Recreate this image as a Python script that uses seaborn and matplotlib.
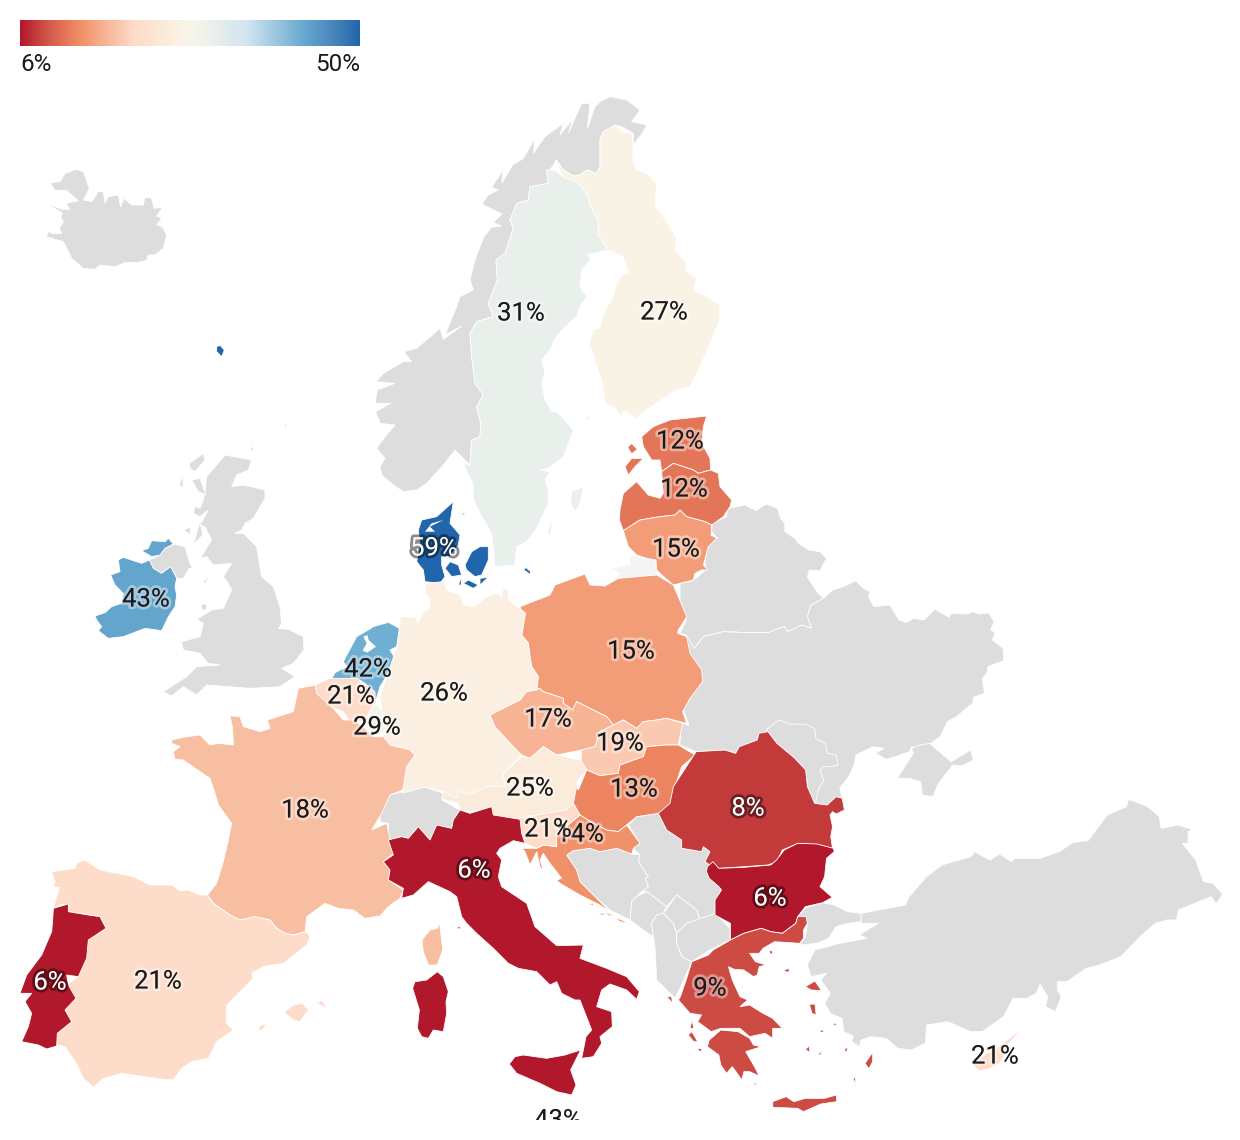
import matplotlib
matplotlib.use("Agg")
import matplotlib.pyplot as plt
import matplotlib.patheffects as pe
from matplotlib.patches import Rectangle
from matplotlib.colors import Normalize
import numpy as np
import seaborn as sns

# share per country, with the spot its label sits at
COUNTRIES = ["Sweden", "Finland", "Estonia", "Latvia", "Lithuania", "Poland", "Denmark", "Ireland",
             "Netherlands", "Germany", "Czechia", "Slovakia", "Austria", "Hungary", "Croatia", "Slovenia",
             "Belgium", "Luxembourg", "France", "Italy", "Romania", "Bulgaria", "Spain", "Portugal",
             "Greece", "Cyprus", "Malta"]
SHARES = [31, 27, 12, 12, 15, 15, 59, 43, 42, 26, 17, 19, 25, 13, 14, 21, 21, 29, 18, 6, 8, 6, 21, 6, 9, 21, 43]
LABEL_X = [521, 664, 680, 684, 676, 631, 434, 146, 368, 444, 548, 620, 530, 634, 580, 548, 351, 377, 305, 474,
           748, 770, 158, 50, 710, 995, 558]
LABEL_Y = [311, 310, 439, 487, 547, 649, 546, 597, 667, 691, 717, 741, 786, 787, 832, 827, 694, 725, 808, 868,
           806, 896, 979, 980, 986, 1054, 1118]

SCALE_MIN = 6
SCALE_MAX = 50
SCALE_COLORS = ["#b2182b", "#d2594a", "#ef8a62", "#f7b494", "#fddbc7", "#fbe9d8", "#f8f6e9", "#e6eeec",
                "#d1e5f0", "#9fc8e0", "#67a9cf", "#4b88bd", "#2166ac"]
NO_DATA = "#dddddd"


def crop(x0, y0, pts, sx=3):
    # outlines were traced on enlarged crops of the map
    return [(x0 + x / sx, y0 + y / 3) for x, y in pts]


NOR = (360, 90)
IRL = (80, 420)
MID = (380, 490)
EAST = (680, 490)
WEST = (0, 680)
SOUTH = (380, 780)
SE = (640, 780)

GREY_SHAPES = [
    crop(0, 0, [(136, 608), (185, 628), (210, 628), (198, 610), (235, 602), (200, 572), (165, 570), (150, 548),
                (180, 545), (195, 520), (230, 508), (250, 515), (268, 565), (250, 600), (275, 605), (295, 575),
                (310, 575), (315, 610), (325, 590), (355, 585), (362, 620), (372, 595), (395, 615), (430, 615),
                (435, 592), (455, 595), (462, 625), (488, 622), (470, 648), (485, 655), (470, 675), (487, 680),
                (500, 705), (490, 745), (465, 765), (445, 765), (440, 780), (415, 788), (375, 788), (345, 800),
                (300, 795), (285, 808), (250, 805), (215, 775), (190, 725), (138, 710), (148, 692), (155, 700),
                (185, 700), (178, 685), (190, 665), (182, 650), (188, 640)]),
    # Norway
    crop(*NOR, [(60, 1130), (75, 1105), (50, 1075), (75, 1040), (105, 1005), (60, 1000), (47, 965), (92, 940),
                (45, 940), (52, 900), (105, 880), (48, 875), (70, 850), (130, 815), (155, 815), (132, 785),
                (170, 775), (240, 715), (250, 748), (305, 708), (255, 735), (290, 650), (300, 620), (340, 600),
                (330, 570), (345, 510), (360, 470), (372, 440), (395, 412), (425, 408), (400, 398), (425, 372),
                (365, 342), (385, 315), (415, 300), (395, 292), (430, 238), (425, 280), (458, 225), (490, 205),
                (525, 145), (520, 190), (555, 140), (575, 125), (610, 100), (600, 135), (640, 85), (625, 130),
                (665, 40), (690, 40), (682, 115), (705, 50), (720, 35), (750, 20), (800, 30), (840, 60), (815, 95),
                (860, 105), (850, 125), (820, 165), (820, 130), (785, 110), (765, 105), (730, 125), (720, 150),
                (720, 230), (710, 250), (680, 240), (660, 255), (640, 258), (610, 240), (590, 210), (570, 240),
                (560, 240), (565, 280), (510, 290), (505, 330), (470, 340), (450, 390), (460, 415), (435, 490),
                (408, 510), (412, 570), (385, 640), (400, 680), (350, 695), (330, 730), (335, 800), (345, 880),
                (370, 915), (350, 950), (362, 1000), (360, 1040), (335, 1050), (330, 1125), (285, 1080), (250, 1125),
                (200, 1180), (170, 1200), (130, 1205), (100, 1185), (65, 1155)]),
    # Great Britain and its islands
    crop(*IRL, [(410, 135), (435, 105), (515, 120), (505, 150), (470, 165), (455, 200), (490, 195), (555, 210),
                (555, 235), (520, 295), (495, 310), (485, 330), (465, 340), (490, 340), (530, 380), (545, 470),
                (580, 500), (600, 560), (605, 610), (595, 625), (625, 628), (670, 650), (672, 690), (640, 730),
                (605, 745), (645, 770), (600, 800), (510, 805), (380, 795), (350, 825), (310, 800), (275, 828),
                (250, 815), (320, 770), (350, 740), (420, 735), (385, 730), (360, 700), (310, 690), (305, 665),
                (360, 650), (370, 610), (350, 598), (395, 570), (430, 565), (455, 510), (445, 490), (430, 470),
                (455, 430), (400, 435), (380, 410), (362, 415), (385, 375), (395, 360), (375, 320), (360, 315),
                (385, 270), (360, 290), (340, 280), (345, 260), (360, 265), (370, 240), (375, 215), (380, 170)]),
    crop(*IRL, [(328, 130), (370, 100), (375, 120), (345, 155), (330, 145)]),
    crop(*IRL, [(335, 180), (360, 175), (378, 225), (355, 215)]),
    crop(*IRL, [(340, 375), (360, 305), (368, 345)]),
    crop(*IRL, [(312, 330), (332, 320), (330, 345)]),
    crop(*IRL, [(298, 195), (308, 165), (310, 205)]),
    crop(*IRL, [(510, 90), (520, 75), (518, 95)]),
    crop(*IRL, [(612, 20), (622, 0), (618, 20)]),
    crop(*IRL, [(368, 485), (390, 470), (375, 490)]),
    crop(*IRL, [(362, 555), (378, 550), (380, 568), (368, 572)]),
    # Northern Ireland
    crop(*IRL, [(208, 420), (240, 405), (255, 385), (285, 372), (315, 380), (330, 430), (338, 445), (328, 445),
                (310, 475), (290, 475), (272, 440), (245, 460), (220, 445)]),
    # Belarus
    crop(*EAST, [(130, 70), (135, 55), (160, 50), (180, 45), (212, 62), (240, 42), (272, 55), (280, 85), (292, 100),
                 (292, 125), (320, 145), (330, 160), (358, 180), (390, 185), (408, 205), (390, 242), (360, 240),
                 (355, 262), (385, 310), (400, 325), (365, 345), (355, 380), (367, 415), (340, 405), (300, 425),
                 (290, 410), (245, 428), (190, 428), (120, 425), (65, 440), (40, 475), (22, 475), (18, 435),
                 (0, 430), (18, 390), (0, 330), (0, 280), (30, 275), (45, 265), (70, 240), (70, 200), (85, 155),
                 (105, 145), (88, 125), (90, 100), (130, 80)], 2.786),
    # Ukraine
    crop(*EAST, [(18, 435), (40, 475), (65, 440), (120, 425), (190, 428), (245, 428), (290, 410), (300, 425),
                 (340, 405), (367, 415), (355, 380), (365, 345), (400, 325), (425, 300), (455, 290), (490, 272),
                 (510, 295), (530, 305), (525, 320), (540, 350), (585, 345), (610, 390), (630, 398), (650, 385),
                 (680, 390), (710, 358), (750, 382), (755, 370), (800, 372), (815, 365), (835, 372), (860, 368),
                 (875, 395), (865, 420), (878, 428), (870, 450), (900, 475), (902, 512), (858, 530), (855, 550),
                 (842, 565), (848, 610), (818, 622), (815, 640), (770, 680), (745, 695), (725, 740), (705, 755),
                 (700, 760), (670, 770), (665, 775), (645, 770), (640, 785), (600, 800), (575, 808), (545, 790),
                 (568, 775), (538, 770), (490, 795), (485, 825), (470, 860), (455, 880), (445, 895), (452, 925),
                 (435, 920), (410, 945), (380, 940), (350, 840), (320, 805), (270, 760), (245, 725), (220, 730),
                 (215, 750), (165, 770), (155, 790), (125, 780), (45, 785), (0, 765), (0, 750), (5, 700), (25, 705),
                 (10, 660), (40, 600), (62, 570), (55, 535), (30, 505), (22, 475)], 2.786),
    # Crimea
    crop(*EAST, [(605, 865), (650, 790), (645, 775), (670, 765), (695, 760), (755, 815), (810, 780), (817, 810),
                 (785, 828), (760, 825), (720, 880), (705, 920), (675, 915), (670, 875), (640, 865)], 2.786),
    # Moldova
    crop(*EAST, [(240, 720), (275, 690), (305, 702), (350, 703), (375, 715), (378, 745), (405, 760), (410, 790),
                 (435, 795), (440, 825), (420, 830), (400, 830), (390, 840), (400, 870), (385, 900), (378, 935),
                 (370, 930), (355, 890), (350, 840), (320, 805), (270, 760), (245, 725)], 2.786),
    # Switzerland
    crop(*SOUTH, [(0, 95), (30, 45), (130, 20), (190, 40), (185, 60), (240, 90), (220, 120), (215, 145), (170, 135),
                  (150, 180), (115, 140), (85, 175), (65, 170), (25, 180), (25, 130), (0, 125)]),
    # Serbia
    crop(*SOUTH, [(745, 135), (770, 110), (835, 100), (860, 150), (905, 180), (905, 205), (965, 215), (970, 200),
                  (990, 215), (975, 245), (1010, 270), (985, 290), (1025, 325), (1005, 370), (1005, 400), (960, 420),
                  (950, 390), (890, 345), (860, 380), (800, 335), (785, 335), (805, 320), (795, 295), (805, 290),
                  (775, 245), (780, 225), (760, 205), (780, 190)]),
    # Bosnia
    crop(*SOUTH, [(560, 225), (580, 212), (630, 205), (660, 215), (710, 205), (755, 222), (780, 225), (775, 245),
                  (805, 290), (795, 295), (805, 320), (785, 335), (770, 350), (755, 365), (750, 420), (690, 390),
                  (640, 345), (600, 305), (590, 270)]),
    # Montenegro
    crop(*SOUTH, [(750, 420), (755, 365), (770, 350), (800, 335), (860, 380), (850, 400), (830, 405), (815, 430),
                  (820, 470), (790, 450)]),
    # Kosovo
    crop(*SOUTH, [(850, 400), (890, 345), (950, 390), (960, 420), (920, 430), (890, 460), (880, 430)]),
    # North Macedonia
    crop(*SOUTH, [(890, 460), (920, 430), (1005, 400), (1050, 445), (1050, 480), (990, 510), (935, 545), (905, 530),
                  (890, 490)]),
    # Albania
    crop(*SOUTH, [(815, 430), (830, 405), (850, 400), (880, 430), (890, 460), (890, 490), (905, 530), (935, 545),
                  (900, 625), (885, 655), (860, 630), (830, 600), (825, 500), (820, 470)]),
    # Turkey
    crop(*SE, [(415, 495), (430, 470), (435, 432), (410, 410), (432, 383), (475, 368), (505, 375), (540, 395),
               (575, 400), (575, 425), (540, 430), (510, 440), (490, 475), (460, 490)], 2.6),
    crop(*SE, [(575, 400), (610, 392), (690, 375), (700, 350), (745, 290), (785, 255), (860, 230), (870, 215),
               (910, 240), (935, 222), (965, 245), (975, 235), (1040, 235), (1090, 215), (1125, 188), (1165, 182),
               (1215, 105), (1265, 80), (1270, 58), (1320, 80), (1350, 110), (1355, 145), (1400, 135), (1438, 150),
               (1425, 155), (1425, 190), (1410, 190), (1445, 240), (1465, 305), (1490, 310), (1515, 342),
               (1498, 372), (1485, 350), (1400, 390), (1395, 420), (1370, 420), (1340, 430), (1300, 470),
               (1250, 530), (1195, 555), (1160, 565), (1110, 605), (1085, 605), (1085, 630), (1095, 650),
               (1080, 695), (1055, 680), (1060, 650), (1040, 612), (1030, 640), (1005, 655), (970, 655), (945, 710),
               (890, 755), (860, 755), (800, 725), (745, 735), (742, 790), (705, 810), (670, 805), (640, 775),
               (600, 770), (575, 780), (570, 800), (550, 785), (555, 768), (530, 755), (525, 715), (495, 700),
               (480, 670), (495, 640), (470, 600), (485, 580), (445, 590), (435, 555), (455, 510), (520, 490),
               (590, 475), (570, 465), (620, 430), (575, 430)], 2.6),
    # Andorra
    crop(*WEST, [(815, 735), (832, 735), (830, 750), (820, 748)]),
]

OUTLINES = {
    "Sweden": [
        crop(*NOR, [(340, 1185), (310, 1120), (330, 1125), (335, 1050), (360, 1040), (362, 1000), (350, 950), (370, 915),
                    (345, 880), (335, 800), (330, 730), (350, 695), (400, 680), (385, 640), (412, 570), (408, 510),
                    (435, 490), (460, 415), (450, 390), (470, 340), (505, 330), (510, 290), (565, 280), (560, 240),
                    (585, 240), (610, 262), (650, 275), (680, 310), (690, 345), (715, 395), (715, 435), (745, 480),
                    (700, 490), (685, 490), (690, 510), (665, 540), (660, 590), (680, 620), (660, 650), (650, 680),
                    (615, 710), (585, 745), (570, 780), (545, 810), (555, 850), (545, 880), (555, 930), (575, 965),
                    (590, 965), (640, 1020), (625, 1060), (610, 1100), (565, 1135), (540, 1140), (570, 1145),
                    (555, 1170), (565, 1200)])
        + crop(*MID, [(505, 40), (470, 115), (440, 155), (410, 170), (405, 225), (345, 230), (340, 170), (335, 130),
                      (300, 70), (280, 25)]),
        crop(*NOR, [(635, 1205), (670, 1190), (660, 1240), (645, 1265), (632, 1240)]),
        crop(*MID, [(525, 50), (510, 140), (503, 130), (518, 80)]),
    ],
    "Finland": [
        crop(*NOR, [(585, 210), (610, 240), (640, 258), (660, 255), (680, 240), (710, 250), (720, 230), (720, 150),
                    (730, 125), (765, 105), (785, 125), (815, 130), (820, 165), (818, 200), (830, 240), (860, 250),
                    (890, 280), (885, 345), (920, 395), (950, 445), (945, 480), (975, 515), (980, 545), (1010, 565),
                    (1000, 600), (1040, 620), (1080, 645), (1078, 690), (1050, 760), (1020, 830), (990, 890),
                    (950, 900), (880, 945), (825, 985), (800, 965), (785, 965), (790, 985), (760, 950), (735, 940),
                    (725, 870), (705, 815), (700, 790), (687, 765), (700, 720), (720, 715), (730, 670), (760, 620),
                    (770, 580), (785, 555), (805, 550), (790, 500), (745, 480), (715, 435), (715, 395), (690, 345),
                    (680, 310), (650, 275), (610, 262)]),
        crop(*NOR, [(672, 985), (690, 972), (685, 995)]),
    ],
    "Estonia": [
        crop(*NOR, [(845, 1040), (880, 1010), (930, 990), (1040, 978), (1030, 1010), (1025, 1060), (1050, 1105),
                    (1052, 1140), (1015, 1150), (1000, 1140), (940, 1120), (905, 1145), (900, 1110), (875, 1110),
                    (850, 1070)]),
        crop(*NOR, [(795, 1130), (815, 1105), (850, 1105), (825, 1130), (805, 1155)]),
        crop(*NOR, [(803, 1072), (815, 1060), (832, 1078), (815, 1092)]),
    ],
    "Latvia": [
        crop(*NOR, [(905, 1145), (940, 1120), (1000, 1140), (1015, 1150), (1052, 1140), (1075, 1150), (1080, 1190),
                    (1115, 1230), (1110, 1250)])
        + crop(*MID, [(1030, 80), (995, 105), (975, 95), (920, 80), (900, 60), (885, 75), (840, 80), (780, 90),
                      (730, 122), (718, 90), (720, 60)])
        + crop(*NOR, [(790, 1210), (830, 1175), (865, 1215), (900, 1225), (910, 1210)]),
    ],
    "Lithuania": [
        crop(*MID, [(730, 122), (780, 90), (840, 80), (885, 75), (900, 60), (920, 80), (975, 95), (995, 105), (993, 135),
                    (1010, 145), (985, 170), (970, 225), (983, 240), (965, 240), (945, 250), (940, 270), (880, 285),
                    (845, 255), (830, 240), (828, 210), (800, 205), (770, 195), (745, 170)]),
    ],
    "Poland": [
        crop(*MID, [(420, 350), (510, 315), (525, 285), (615, 252), (630, 285), (675, 288), (715, 265), (830, 255),
                    (880, 285), (895, 320), (920, 380), (895, 420), (893, 430), (920, 440), (930, 490), (965, 540),
                    (968, 575), (930, 625), (908, 665), (920, 700), (860, 685), (830, 690), (790, 695), (770, 715),
                    (730, 690), (700, 705), (680, 680), (630, 655), (590, 635), (578, 660), (550, 640), (550, 625),
                    (490, 605), (478, 595), (470, 600), (475, 560), (455, 530), (450, 500), (445, 460), (425, 435),
                    (432, 395)]),
    ],
    "Denmark": [
        crop(0, 0, [(650, 1040), (660, 1036), (673, 1050), (665, 1070), (650, 1055)]),
        crop(*MID, [(135, 275), (130, 240), (110, 215), (120, 160), (115, 120), (125, 90), (170, 80), (220, 35),
                    (210, 100), (240, 135), (235, 165), (210, 200), (185, 200), (185, 225), (195, 260), (180, 280)]),
        crop(*MID, [(195, 235), (210, 215), (235, 225), (245, 255), (215, 260)]),
        crop(*MID, [(255, 225), (275, 185), (300, 170), (325, 170), (325, 210), (305, 255), (285, 260), (260, 240)]),
        crop(*MID, [(250, 280), (265, 270), (295, 285), (280, 295)]),
        crop(*MID, [(300, 265), (325, 262), (300, 285)]),
        crop(*MID, [(432, 240), (437, 232), (452, 245), (450, 253)]),
        crop(*MID, [(235, 285), (245, 258), (243, 285)]),
        crop(*MID, [(243, 72), (255, 68), (252, 75)]),
    ],
    "Ireland": [
        crop(*IRL, [(115, 420), (130, 412), (185, 430), (208, 420), (220, 445), (245, 460), (272, 440), (290, 475),
                    (285, 500), (290, 525), (285, 560), (265, 590), (245, 632), (195, 625), (130, 650), (85, 655),
                    (55, 632), (65, 620), (50, 600), (45, 588), (75, 578), (95, 560), (125, 550), (130, 520),
                    (105, 495), (92, 465), (120, 455)]),
        crop(*IRL, [(185, 392), (205, 385), (215, 362), (255, 365), (265, 355), (280, 372), (255, 385), (240, 405),
                    (215, 410)]),
    ],
    "Netherlands": [
        crop(*IRL, [(880, 620), (925, 607), (958, 625), (950, 680), (930, 690), (948, 720), (925, 760), (900, 800),
                    (885, 850), (880, 815), (855, 790), (830, 775), (750, 785), (765, 758), (800, 740), (790, 725),
                    (830, 650), (868, 628)]),
    ],
    "Germany": [
        crop(*MID, [(135, 280), (190, 275), (200, 300), (240, 315), (250, 345), (280, 350), (320, 320), (350, 310),
                    (365, 320), (370, 295), (385, 300), (385, 330), (415, 352), (437, 370), (432, 395), (425, 435),
                    (445, 460), (450, 500), (455, 530), (475, 560), (470, 600), (440, 605), (420, 630), (330, 675),
                    (345, 710), (400, 770), (425, 795), (370, 850), (375, 890), (320, 890), (275, 912), (235, 905),
                    (232, 925), (190, 905)])
        + [(425, 787), (403, 793), (403, 780), (407, 767), (415, 755), (410, 750), (390, 745), (383, 737), (385, 733),
           (382, 710), (380, 697), (388, 673), (397, 647), (400, 628), (400, 617), (415, 617), (418, 623), (423, 612),
           (430, 608), (430, 598), (425, 593)],
    ],
    "Czechia": [
        crop(*MID, [(330, 675), (420, 630), (440, 605), (470, 600), (478, 595), (490, 605), (550, 625), (550, 640),
                    (578, 660), (590, 635), (630, 655), (680, 680), (700, 705), (660, 725), (645, 770), (605, 780),
                    (530, 795), (490, 770), (450, 805), (425, 795), (400, 770), (345, 710)]),
    ],
    "Slovakia": [
        crop(*MID, [(700, 705), (730, 690), (770, 715), (790, 695), (830, 690), (860, 685), (908, 700), (895, 765),
                    (860, 765), (800, 770), (790, 800), (720, 825), (715, 850), (660, 857), (620, 840), (603, 815),
                    (605, 780), (645, 770), (660, 725)]),
    ],
    "Austria": [
        crop(*MID, [(185, 925), (190, 905), (232, 925), (235, 905), (275, 912), (320, 890), (375, 890), (370, 850),
                    (425, 800), (450, 805), (490, 770), (530, 795), (600, 810), (620, 840), (590, 875), (595, 900),
                    (580, 945)])
        + crop(*SOUTH, [(560, 90), (470, 105), (420, 118), (340, 105), (335, 80), (275, 95), (240, 90), (235, 70),
                        (190, 58)]),
    ],
    "Hungary": [
        crop(*MID, [(620, 840), (660, 857), (715, 850), (720, 825), (790, 800), (800, 770), (860, 765), (895, 765),
                    (945, 795), (905, 830), (885, 890), (870, 950)])
        + crop(*SOUTH, [(835, 100), (770, 110), (740, 135), (715, 155), (680, 150), (640, 130), (600, 105), (580, 70),
                        (590, 20), (595, 30)]),
    ],
    "Croatia": [
        crop(*SOUTH, [(530, 200), (530, 165), (570, 130), (600, 105), (640, 130), (680, 150), (715, 155), (740, 135),
                      (780, 190), (760, 205), (755, 222), (710, 205), (660, 215), (630, 205), (580, 212), (560, 225),
                      (590, 270), (600, 305), (640, 345), (690, 395), (660, 375), (600, 345), (540, 310), (530, 300),
                      (545, 295), (510, 250), (490, 220), (480, 240), (490, 270), (480, 260), (470, 215), (450, 255),
                      (435, 215), (425, 205), (470, 205), (490, 195)]),
        crop(*SOUTH, [(615, 370), (640, 370), (640, 375)]),
        crop(*SOUTH, [(645, 405), (680, 397), (670, 405)]),
        crop(*SOUTH, [(665, 395), (700, 405), (690, 408)]),
        crop(*SOUTH, [(700, 410), (750, 430), (720, 425)]),
    ],
    "Slovenia": [
        crop(*SOUTH, [(415, 115), (470, 105), (560, 90), (580, 70), (600, 105), (570, 130), (530, 165), (530, 200),
                      (490, 195), (470, 205), (435, 190), (425, 160)]),
    ],
    "Belgium": [
        crop(*IRL, [(705, 795), (750, 775), (830, 775), (885, 815), (885, 850), (850, 905), (810, 905), (790, 875),
                    (745, 855), (710, 820)]),
    ],
    "Luxembourg": [
        crop(*IRL, [(885, 850), (905, 870), (915, 940), (880, 945), (850, 905)]),
    ],
    "France": [
        crop(*WEST, [(515, 180), (560, 170), (600, 165), (630, 195), (655, 190), (700, 195), (698, 145), (690, 107),
                     (720, 110), (730, 140), (780, 155), (810, 145), (802, 120), (880, 95), (895, 25), (945, 15),
                     (950, 40), (1000, 85), (1030, 120), (1060, 120), (1090, 140), (1120, 170), (1150, 170),
                     (1170, 195), (1230, 210), (1245, 225), (1220, 260), (1208, 330), (1170, 345), (1145, 400),
                     (1115, 450), (1160, 430), (1170, 480), (1180, 520), (1150, 545), (1170, 570), (1165, 600),
                     (1210, 630), (1200, 655), (1165, 680), (1140, 708), (1095, 715), (1060, 690), (1015, 685),
                     (975, 670), (920, 710), (915, 755), (880, 765), (855, 760), (830, 745), (810, 720), (765, 710),
                     (720, 720), (690, 705), (640, 670), (622, 645), (650, 610), (670, 545), (685, 480), (695, 430),
                     (655, 375), (645, 340), (630, 295), (600, 275), (550, 240), (525, 238), (520, 215), (540, 200),
                     (515, 190)]),
        crop(*SOUTH, [(178, 425), (183, 465), (188, 510), (172, 555), (145, 555), (130, 515), (126, 480), (150, 450),
                      (172, 445)]),
    ],
    "Italy": [
        crop(*SOUTH, [(25, 180), (65, 170), (85, 175), (115, 140), (150, 180), (170, 135), (215, 145), (220, 120),
                      (240, 90), (270, 100), (335, 80), (340, 105), (420, 118), (425, 160), (435, 190), (400, 182),
                      (360, 205), (350, 220), (365, 240), (355, 290), (365, 320), (440, 370), (465, 440), (530, 497),
                      (610, 495), (600, 535), (680, 565), (740, 590), (778, 635), (770, 658), (740, 630), (690, 612),
                      (665, 630), (650, 680), (695, 695), (697, 740), (660, 770), (665, 790), (640, 830), (605, 835),
                      (618, 770), (635, 750), (600, 660), (585, 660), (545, 640), (530, 605), (510, 615), (470, 575),
                      (415, 565), (385, 550), (340, 505), (290, 460), (260, 430), (245, 410), (230, 350), (210, 335),
                      (145, 305), (100, 345), (65, 355), (70, 325), (25, 300), (30, 270), (10, 245), (40, 225)]),
        crop(*SOUTH, [(388, 852), (405, 830), (430, 825), (500, 835), (555, 825), (602, 810), (572, 870), (588, 915),
                      (575, 945), (530, 935), (480, 910), (410, 880)]),
        crop(*SOUTH, [(98, 625), (105, 605), (140, 600), (172, 575), (190, 590), (205, 635), (198, 665), (200, 700),
                      (190, 755), (160, 750), (145, 775), (125, 770), (112, 745), (118, 690)]),
        crop(*SOUTH, [(225, 443), (243, 440), (240, 447)]),
    ],
    "Romania": [
        crop(*EAST, [(45, 785), (125, 780), (155, 790), (165, 770), (215, 750), (220, 730), (245, 725), (270, 760),
                     (320, 805), (350, 840), (355, 890), (375, 940), (410, 945), (435, 920), (452, 925), (458, 960),
                     (435, 972), (425, 965), (418, 975), (425, 1010), (420, 1040), (425, 1075), (385, 1065),
                     (330, 1060), (285, 1080), (270, 1115), (245, 1125), (180, 1130), (110, 1135)], 2.786)
        + crop(*SOUTH, [(1010, 270), (975, 245), (990, 215), (970, 200), (965, 215), (905, 205), (905, 180), (860, 150),
                        (835, 100), (870, 70), (880, 20)]),
    ],
    "Bulgaria": [
        crop(*SE, [(175, 260), (190, 245), (205, 265), (270, 262), (340, 255), (355, 240), (375, 210), (410, 190),
                   (460, 192), (503, 205), (505, 215), (485, 235), (480, 290), (468, 320), (500, 352), (475, 368),
                   (430, 380), (410, 410), (405, 430), (370, 460), (340, 455), (315, 445), (270, 460), (235, 480),
                   (235, 430), (195, 405), (195, 360), (212, 330), (205, 320), (180, 295), (173, 275)], 2.6),
    ],
    "Spain": [
        crop(*WEST, [(155, 575), (225, 565), (230, 550), (255, 540), (300, 570), (400, 590), (450, 615), (515, 615),
                     (540, 632), (565, 630), (600, 645), (622, 645), (640, 670), (690, 705), (720, 720), (765, 710),
                     (810, 720), (830, 745), (855, 760), (880, 765), (920, 755), (930, 770), (920, 795), (850, 850),
                     (790, 860), (755, 880), (760, 895), (680, 975), (680, 1030), (700, 1050), (650, 1085),
                     (625, 1135), (575, 1145), (545, 1165), (520, 1200), (490, 1198), (365, 1180), (310, 1195),
                     (280, 1222), (250, 1195), (232, 1155), (195, 1100), (170, 1095), (172, 1060), (215, 1025),
                     (195, 990), (228, 955), (200, 915), (235, 890), (250, 850), (265, 780), (318, 745), (300, 710),
                     (265, 705), (205, 695), (205, 672), (180, 675), (160, 685), (178, 622), (160, 620), (165, 605)]),
        crop(*WEST, [(852, 997), (880, 975), (908, 970), (925, 990), (900, 1025), (880, 1020)]),
        crop(*WEST, [(950, 968), (965, 962), (983, 985), (970, 980)]),
        crop(*WEST, [(772, 1045), (790, 1032), (800, 1035), (785, 1052)]),
    ],
    "Portugal": [
        crop(*WEST, [(160, 685), (205, 672), (205, 695), (265, 705), (300, 710), (318, 745), (265, 780), (260, 835),
                     (235, 890), (200, 885), (205, 915), (228, 955), (195, 990), (215, 1025), (172, 1060), (170, 1098),
                     (140, 1107), (115, 1095), (65, 1085), (85, 1040), (95, 1000), (75, 965), (95, 940), (60, 940),
                     (80, 885), (125, 825), (155, 755), (158, 720)]),
    ],
    "Greece": [
        crop(*SE, [(235, 480), (270, 460), (315, 445), (340, 455), (370, 460), (405, 430), (410, 410), (432, 410),
                   (435, 430), (425, 450), (425, 475), (415, 490), (350, 485), (320, 505), (310, 520), (285, 520),
                   (300, 545), (328, 555), (310, 560), (305, 585), (295, 590), (270, 570), (245, 568), (230, 560),
                   (240, 600), (260, 650), (280, 660), (260, 680), (285, 675), (320, 700), (345, 715), (370, 745),
                   (345, 745), (345, 775), (325, 760), (285, 770), (260, 745), (210, 745), (185, 755), (150, 725),
                   (160, 705), (130, 700), (100, 660), (105, 650), (120, 600), (135, 545), (178, 525), (190, 510),
                   (225, 487)], 2.6),
        crop(*SE, [(175, 800), (180, 780), (210, 750), (255, 755), (285, 775), (295, 795), (315, 800), (275, 815),
                   (300, 865), (310, 888), (285, 875), (270, 875), (265, 900), (240, 860), (225, 880), (210, 855),
                   (205, 825)], 2.6),
        crop(*SE, [(345, 965), (380, 950), (400, 965), (430, 955), (480, 955), (510, 945), (512, 965), (470, 972),
                   (425, 995), (410, 985), (345, 982)], 2.6),
        crop(*SE, [(335, 510), (347, 515), (340, 525)], 2.6),
        crop(*SE, [(372, 570), (390, 565), (385, 578)], 2.6),
        crop(*SE, [(430, 620), (455, 603), (472, 632), (445, 630)], 2.6),
        crop(*SE, [(440, 673), (455, 672), (458, 705), (447, 700)], 2.6),
        crop(*SE, [(465, 755), (478, 748), (475, 758)], 2.6),
        crop(*SE, [(500, 730), (512, 730), (508, 738)], 2.6),
        crop(*SE, [(430, 808), (440, 798), (442, 818)], 2.6),
        crop(*SE, [(462, 825), (472, 812), (470, 825)], 2.6),
        crop(*SE, [(530, 812), (540, 798), (538, 815)], 2.6),
        crop(*SE, [(585, 850), (605, 817), (605, 845), (595, 866)], 2.6),
        crop(*SE, [(555, 895), (560, 890), (560, 917)], 2.6),
        crop(*SE, [(70, 650), (82, 650), (85, 670)], 2.6),
        crop(*SE, [(125, 765), (135, 755), (150, 785), (140, 785)], 2.6),
        crop(*SE, [(145, 805), (158, 805), (158, 815)], 2.6),
        crop(*SE, [(130, 745), (135, 720), (140, 745)], 2.6),
        crop(*SE, [(295, 905), (305, 915), (298, 915)], 2.6),
    ],
    "Cyprus": [
        crop(*SE, [(880, 872), (866, 855), (900, 820), (920, 810), (950, 785), (992, 745), (960, 790), (950, 820),
                   (935, 850), (905, 868)], 2.6),
    ],
    "Malta": [
        crop(*SOUTH, [(524, 1015), (532, 1012), (534, 1020)]),
    ],
}
# bays and lakes cut back out of the filled countries
WATER = [
    crop(*MID, [(135, 125), (155, 100), (190, 90), (150, 110), (165, 125), (145, 125)]),
    crop(*IRL, [(850, 650), (862, 645), (866, 660), (888, 680), (862, 698), (848, 692), (860, 670)]),
]
KALININGRAD = crop(*MID, [(695, 235), (750, 225), (750, 195), (795, 205), (828, 210), (830, 255), (700, 270), (720, 250)])

sns.set_theme(style="white")
plt.rcParams["font.family"] = ["Roboto", "DejaVu Sans"]

scale = sns.blend_palette(SCALE_COLORS, as_cmap=True)
norm = Normalize(SCALE_MIN, SCALE_MAX, clip=True)

fig = plt.figure(figsize=(12.4, 11.4), dpi=100)
ax = fig.add_axes([0, 0, 1, 1])
ax.set_xlim(0, 1240)
ax.set_ylim(1140, 0)
ax.set_axis_off()

for shape in GREY_SHAPES:
    ax.fill(*zip(*shape), facecolor=NO_DATA, edgecolor="white", linewidth=0.6)
ax.fill(*zip(*KALININGRAD), facecolor="#f4f4f4", edgecolor="white", linewidth=0.6)

for name, value in zip(COUNTRIES, SHARES):
    for shape in OUTLINES[name]:
        ax.fill(*zip(*shape), facecolor=scale(norm(value)), edgecolor="white", linewidth=0.6)
for shape in WATER:
    ax.fill(*zip(*shape), facecolor="white", edgecolor="none")

frame = Rectangle((0, 0), 1240, 1120, transform=ax.transData)
for x, y, value in zip(LABEL_X, LABEL_Y, SHARES):
    on_dark = value <= 8 or value >= 50
    label = ax.text(x, y, f"{value}%", ha="center", va="center_baseline", fontsize=18.5,
                    color="#ffffff" if on_dark else "#1a1a1a")
    halo = (0, 0, 0, 0.45) if on_dark else (1, 1, 1, 0.4)
    label.set_path_effects([pe.withStroke(linewidth=4, foreground=halo)])
    label.set_clip_on(True)
    label.set_clip_path(frame)

bar_ax = fig.add_axes([20 / 1240, 1 - 46 / 1140, 340 / 1240, 26 / 1140])
ramp = np.linspace(SCALE_MIN, SCALE_MAX, 340).reshape(1, -1)
sns.heatmap(ramp, cmap=scale, vmin=SCALE_MIN, vmax=SCALE_MAX, cbar=False, ax=bar_ax,
            xticklabels=False, yticklabels=False)
ax.text(20, 62, f"{SCALE_MIN}%", ha="left", va="center_baseline", fontsize=17.5, color="#1a1a1a")
ax.text(360, 62, f"{SCALE_MAX}%", ha="right", va="center_baseline", fontsize=17.5, color="#1a1a1a")

fig.savefig("out.png", dpi=100)
